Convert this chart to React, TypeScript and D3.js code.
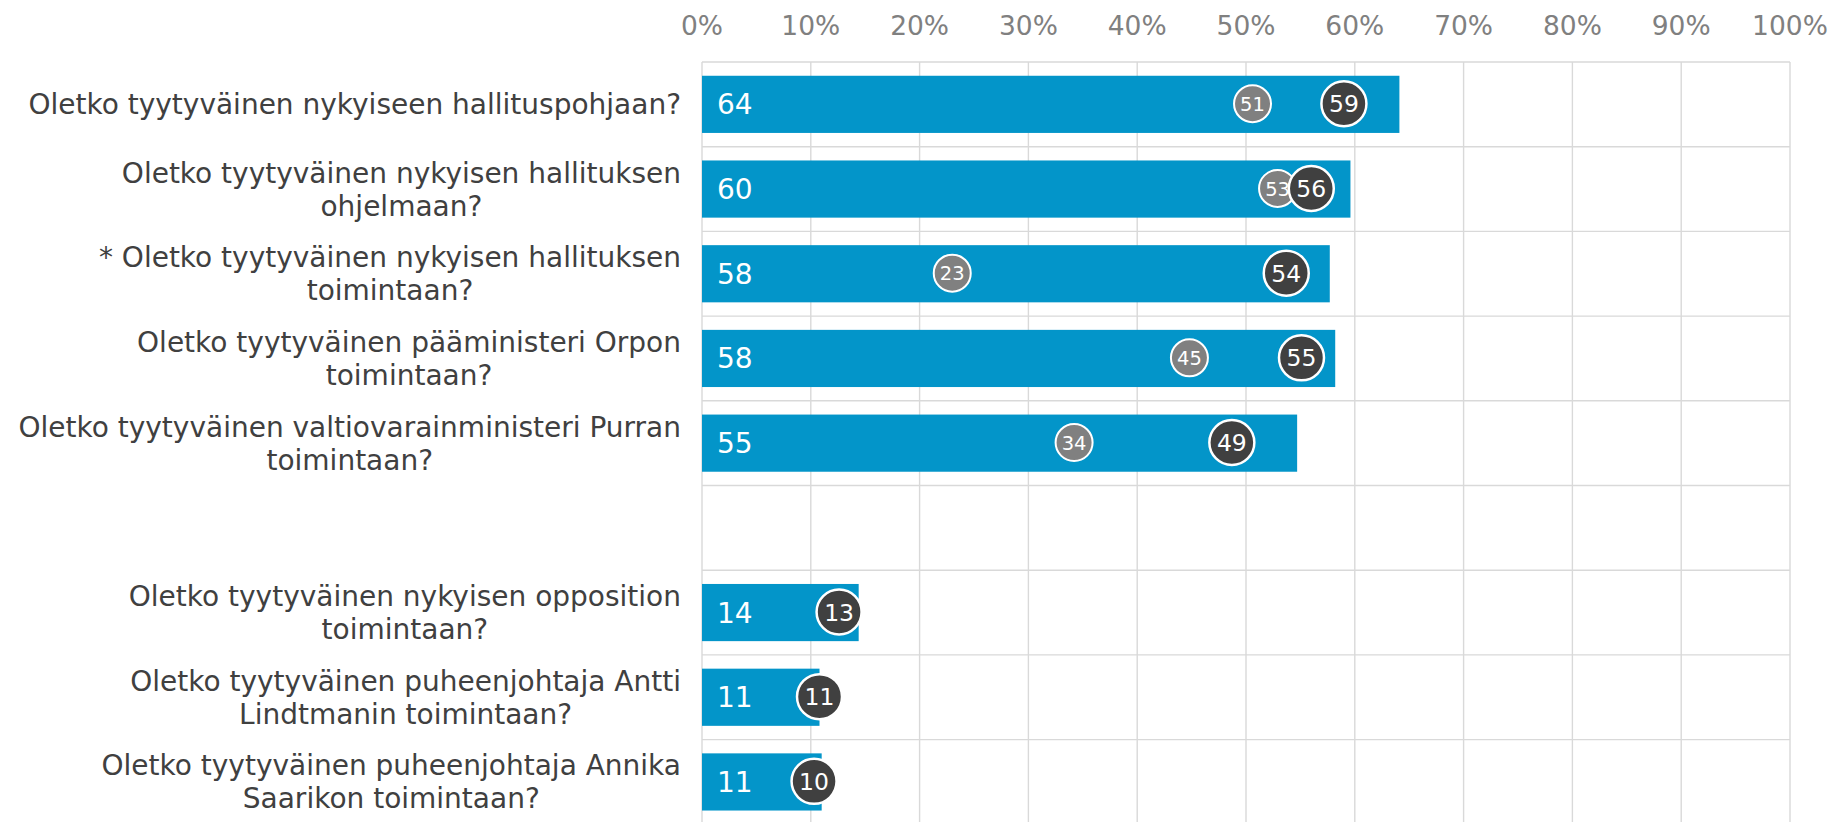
import React, { useMemo } from 'react';
import * as d3 from 'd3';

const categories: string[] = [
  "Oletko tyytyväinen nykyiseen hallituspohjaan?",
  "Oletko tyytyväinen nykyisen hallituksen\nohjelmaan?",
  "* Oletko tyytyväinen nykyisen hallituksen\ntoimintaan?",
  "Oletko tyytyväinen pääministeri Orpon\ntoimintaan?",
  "Oletko tyytyväinen valtiovarainministeri Purran\ntoimintaan?",
  "",
  "Oletko tyytyväinen nykyisen opposition\ntoimintaan?",
  "Oletko tyytyväinen puheenjohtaja Antti\nLindtmanin toimintaan?",
  "Oletko tyytyväinen puheenjohtaja Annika\nSaarikon toimintaan?",
];
const barValues: (number | null)[] = [64.1, 59.6, 57.7, 58.2, 54.7, null, 14.4, 10.8, 11.0];
const darkValues: (number | null)[] = [59.0, 56.0, 53.7, 55.1, 48.7, null, 12.6, 10.8, 10.3];
const grayValues: (number | null)[] = [50.6, 52.9, 23.0, 44.8, 34.2, null, null, null, null];
const xTicks: number[] = [0, 10, 20, 30, 40, 50, 60, 70, 80, 90, 100];

const W = 1831;
const H = 822;
const FONT = "'DejaVu Sans', Verdana, sans-serif";

function measure(text: string, font: string): number {
  const c = document.createElement('canvas');
  const ctx = c.getContext('2d');
  if (!ctx) return text.length * 15;
  ctx.font = font;
  return ctx.measureText(text).width;
}

export default function App() {
  const x = d3.scaleLinear().domain([0, 100]).range([702, 1790]);
  const step = 84.7;
  const top = 62;
  const y = d3
    .scaleBand<string>()
    .domain(categories.map((_, i) => String(i)))
    .range([top, top + step * categories.length])
    .padding(0);
  const bw = y.bandwidth();
  const barH = bw * 0.675;
  const labelRight = 681;
  const lineH = 33;

  const labelLayout = useMemo(
    () =>
      categories.map((c) => {
        const lines = c ? c.split('\n') : [];
        const widths = lines.map((l) => measure(l, `28px ${FONT}`));
        const maxW = widths.length ? Math.max(...widths) : 0;
        return { lines, center: labelRight - maxW / 2 };
      }),
    []
  );

  const hLines = d3.range(categories.length + 1).map((i) => top + i * bw);

  return (
    <svg
      width={W}
      height={H}
      style={{ position: 'absolute', left: 0, top: 0, display: 'block', background: '#fff' }}
      fontFamily={FONT}
    >
      {/* gridlines */}
      <g stroke="#d9d9d9" strokeWidth={1.4}>
        {xTicks.map((t) => (
          <line key={'v' + t} x1={x(t)} x2={x(t)} y1={top} y2={H} />
        ))}
        {hLines.map((yy, i) => (
          <line key={'h' + i} x1={x(0)} x2={x(100)} y1={yy} y2={yy} />
        ))}
      </g>
      {/* x tick labels */}
      <g fill="#808080" fontSize={26.5} textAnchor="middle">
        {xTicks.map((t) => (
          <text key={'t' + t} x={x(t)} y={34.5}>
            {t + '%'}
          </text>
        ))}
      </g>
      {/* category labels */}
      <g fill="#404040" fontSize={28} textAnchor="middle">
        {labelLayout.map((l, i) => {
          const cy = (y(String(i)) as number) + bw / 2;
          const n = l.lines.length;
          return l.lines.map((line, k) => (
            <text key={'c' + i + '-' + k} x={l.center} y={cy + 10 + (k - (n - 1) / 2) * lineH}>
              {line}
            </text>
          ));
        })}
      </g>
      {/* bars */}
      {barValues.map((v, i) => {
        if (v == null) return null;
        const cy = (y(String(i)) as number) + bw / 2;
        return (
          <g key={'b' + i}>
            <rect x={x(0)} y={cy - barH / 2} width={x(v) - x(0)} height={barH} fill="#0395c9" />
            <text x={x(0) + 15} y={cy + 10} fill="#fff" fontSize={28}>
              {Math.round(v)}
            </text>
          </g>
        );
      })}
      {/* gray markers */}
      {grayValues.map((v, i) => {
        if (v == null) return null;
        const cy = (y(String(i)) as number) + bw / 2 - 0.6;
        return (
          <g key={'g' + i}>
            <circle cx={x(v)} cy={cy} r={18.5} fill="#808080" stroke="#fff" strokeWidth={2} />
            <text x={x(v)} y={cy + 7.2} fill="#fff" fontSize={19.5} textAnchor="middle">
              {Math.round(v)}
            </text>
          </g>
        );
      })}
      {/* dark markers */}
      {darkValues.map((v, i) => {
        if (v == null) return null;
        const cy = (y(String(i)) as number) + bw / 2 - 0.6;
        return (
          <g key={'d' + i}>
            <circle cx={x(v)} cy={cy} r={22.5} fill="#404040" stroke="#fff" strokeWidth={2.5} />
            <text x={x(v)} y={cy + 8.6} fill="#fff" fontSize={23.5} textAnchor="middle">
              {Math.round(v)}
            </text>
          </g>
        );
      })}
    </svg>
  );
}
